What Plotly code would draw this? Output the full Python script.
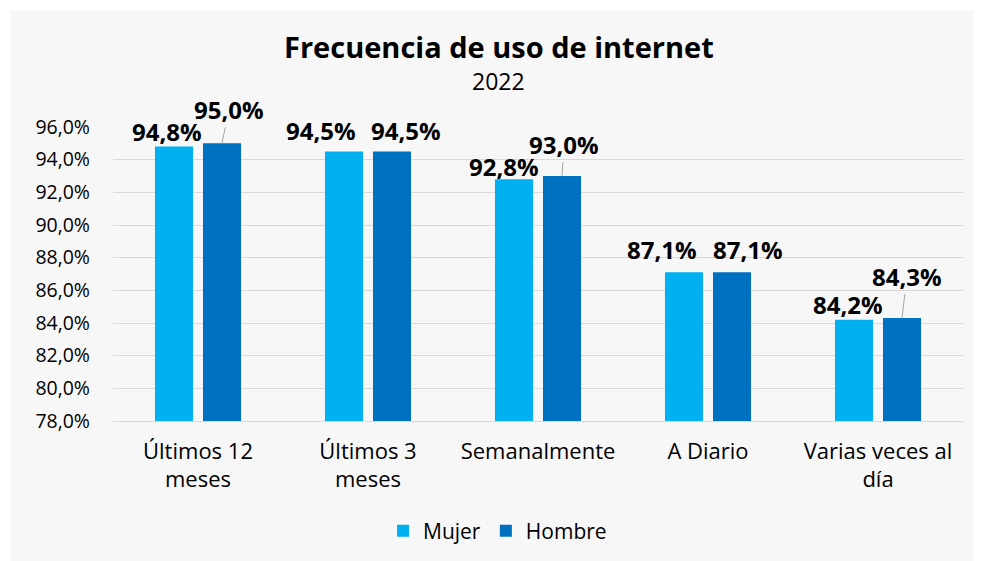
import plotly.graph_objects as go

categories = ["Últimos 12<br>meses", "Últimos 3<br>meses", "Semanalmente", "A Diario", "Varias veces al<br>día"]
mujer = [94.8, 94.5, 92.8, 87.1, 84.2]
hombre = [95.0, 94.5, 93.0, 87.1, 84.3]
y_ticks = [78, 80, 82, 84, 86, 88, 90, 92, 94, 96]
y_tick_labels = ["78,0%", "80,0%", "82,0%", "84,0%", "86,0%", "88,0%", "90,0%", "92,0%", "94,0%", "96,0%"]
title_text = "Frecuencia de uso de internet"
subtitle_text = "2022"

FONT = "Open Sans"
C_MUJER = "#00B0F0"
C_HOMBRE = "#0070C0"
LABEL_SIZE = 24

fig = go.Figure()
fig.add_trace(go.Bar(x=categories, y=mujer, name="Mujer", marker=dict(color=C_MUJER, line=dict(width=0))))
fig.add_trace(go.Bar(x=categories, y=hombre, name="Hombre", marker=dict(color=C_HOMBRE, line=dict(width=0))))

# label placement (pixel offsets): (xshift, yshift) for plain labels, (ax, ay) for leader-line labels
mujer_offsets = [(-31, 15), (-47, 21), (-34, 13), (-46, 23), (-30, 15)]
hombre_offsets = [(7, -34, True), (38, 21, False), (2, -32, True), (40, 23, False), (5, -42, True)]

def fmt(v):
    return f"{v:.1f}".replace(".", ",") + "%"

# plot area in screenshot pixels: x 113..963, y 127..421 (body margin 8px)
def py(pix):
    return (421 - pix) / 294

def px(pix):
    return (pix - 113) / 850

annotations = []
for i, c in enumerate(categories):
    dx, dy = mujer_offsets[i]
    annotations.append(dict(x=c, y=mujer[i], xref="x", yref="y", text=f"<b>{fmt(mujer[i])}</b>",
                            showarrow=False, xshift=dx, yshift=dy, yanchor="middle",
                            font=dict(family=FONT, size=LABEL_SIZE, color="#000")))
    ox, oy, arrow = hombre_offsets[i]
    if arrow:
        annotations.append(dict(x=c, y=hombre[i], xref="x", yref="y", text=f"<b>{fmt(hombre[i])}</b>",
                                showarrow=True, arrowhead=0, arrowwidth=1, arrowcolor="#A6A6A6",
                                ax=ox, ay=oy, xshift=24, standoff=0,
                                font=dict(family=FONT, size=LABEL_SIZE, color="#000")))
    else:
        annotations.append(dict(x=c, y=hombre[i], xref="x", yref="y", text=f"<b>{fmt(hombre[i])}</b>",
                                showarrow=False, xshift=ox, yshift=oy, yanchor="middle",
                                font=dict(family=FONT, size=LABEL_SIZE, color="#000")))

annotations.append(dict(x=px(499), y=py(47), xref="paper", yref="paper", text=f"<b>{title_text}</b>",
                        showarrow=False, font=dict(family=FONT, size=29, color="#000"),
                        xanchor="center", yanchor="middle"))
annotations.append(dict(x=px(498), y=py(81), xref="paper", yref="paper", text=subtitle_text,
                        showarrow=False, font=dict(family=FONT, size=23, color="#000"),
                        xanchor="center", yanchor="middle"))

fig.update_layout(
    width=982, height=561,
    margin=dict(l=105, r=27, t=119, b=148),
    paper_bgcolor="white",
    plot_bgcolor="#F7F7F7",
    barmode="group",
    bargap=0.435,
    bargroupgap=0.208,
    showlegend=True,
    legend=dict(orientation="h", x=px(383), xanchor="left", y=py(531), yanchor="middle",
                font=dict(family=FONT, size=21, color="#000"), bgcolor="rgba(0,0,0,0)",
                itemwidth=30, tracegroupgap=0),
    annotations=annotations,
    shapes=[dict(type="rect", xref="paper", yref="paper", x0=px(10), x1=px(995),
                 y0=py(570), y1=py(10), fillcolor="#F7F7F7", line=dict(width=0), layer="below")],
    font=dict(family=FONT, color="#000"),
)
fig.update_yaxes(range=[78, 96], tickvals=y_ticks, ticktext=y_tick_labels,
                 showgrid=True, gridcolor="#D9D9D9", gridwidth=1.3, zeroline=False,
                 showline=False, ticks="", ticklabelstandoff=22,
                 tickfont=dict(family=FONT, size=19.5, color="#000"))
fig.update_xaxes(showline=True, linecolor="#D9D9D9", linewidth=1.3, ticks="",
                 tickfont=dict(family=FONT, size=22, color="#000"), ticklabelstandoff=10)

fig.write_html("out.html")
